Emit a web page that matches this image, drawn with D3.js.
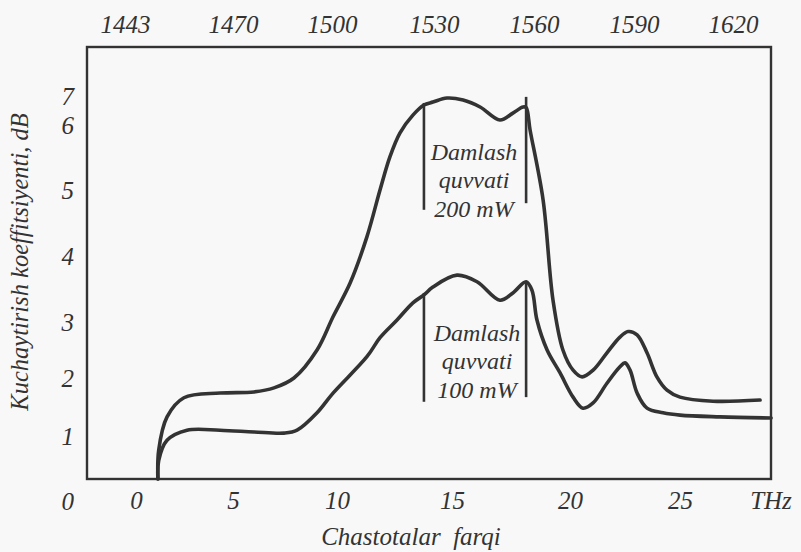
<!DOCTYPE html>
<html><head><meta charset="utf-8">
<script src="https://cdn.jsdelivr.net/npm/d3@7"></script>
<style>
body{margin:0;background:#f8f8f8}
</style>
</head><body>
<svg id="chart" width="801" height="552"></svg>
<script>
// ---- data ----
const xTickValues = [0, 5, 10, 15, 20, 25];
const yTickValues = [0, 1, 2, 3, 4, 5, 6, 7];
const topWavelengths = [1443, 1470, 1500, 1530, 1560, 1590, 1620];

// 200 mW curve (frequency difference THz, gain dB)
const highX = [1.13, 1.17, 1.60, 2.47, 4.33, 6.01, 6.97, 7.93, 9.04, 9.81, 10.57, 11.30, 11.87, 12.30, 12.74, 13.30, 13.78, 14.17, 14.78, 15.47, 16.19, 17.03, 17.58, 18.01, 18.14, 18.31, 18.86, 19.28, 19.70, 20.14, 20.55, 21.05, 21.68, 22.27, 22.64, 23.05, 23.5, 23.95, 24.41, 25.0, 26.5, 28.64];
const highY = [0, 0.67, 1.33, 1.66, 1.74, 1.76, 1.83, 2.0, 2.5, 3.08, 3.59, 4.29, 5.0, 5.51, 5.88, 6.34, 6.69, 6.79, 6.93, 6.86, 6.62, 6.17, 6.41, 6.62, 6.6, 5.92, 4.85, 3.33, 2.5, 2.14, 2.02, 2.14, 2.45, 2.73, 2.83, 2.77, 2.45, 2.02, 1.79, 1.67, 1.60, 1.62];

// 100 mW curve
const lowX = [1.13, 1.17, 1.60, 2.63, 4.33, 6.01, 7.45, 8.08, 9.04, 9.81, 11.30, 11.87, 12.61, 13.30, 13.78, 14.17, 15.21, 16.06, 17.03, 17.58, 18.14, 18.39, 18.6, 19.03, 19.58, 20.14, 20.59, 21.05, 21.68, 22.27, 22.5, 22.73, 23.05, 23.5, 24.23, 25.0, 26.82, 29.14];
const lowY = [0, 0.43, 0.9, 1.1, 1.1, 1.07, 1.05, 1.1, 1.4, 1.74, 2.38, 2.72, 3.03, 3.29, 3.41, 3.53, 3.71, 3.61, 3.33, 3.44, 3.61, 3.48, 3.03, 2.5, 2.09, 1.67, 1.48, 1.57, 1.91, 2.2, 2.27, 2.14, 1.74, 1.48, 1.40, 1.36, 1.33, 1.31];

// marker bars (x position, bottom value, top value)
const highBarX = [13.78, 18.14];
const highBarBottom = [4.70, 4.80];
const highBarTop = [6.76, 6.97];
const lowBarX = [13.78, 18.14];
const lowBarBottom = [1.59, 1.67];
const lowBarTop = [3.44, 3.61];

const highLabel = ["Damlash", "quvvati", "200 mW"];
const lowLabel = ["Damlash", "quvvati", "100 mW"];

// ---- layout ----
const L = 87, R = 771, T = 47, B = 479;
const FONT = "'Liberation Serif', 'Times New Roman', serif";
const svg = d3.select("#chart");
const ink = "#333";

// the printed axes are hand-spaced, so the scales are piecewise linear through the tick marks
const x = d3.scaleLinear().domain(xTickValues).range([136, 233, 337, 452, 570, 680]);
const y = d3.scaleLinear().domain(yTickValues).range([479, 436, 378, 322, 256, 190, 125, 96]);
const xTop = d3.scaleLinear().domain(topWavelengths).range([125, 233, 332, 434, 534, 634, 733]);

// frame
svg.append("rect").attr("x", L).attr("y", T).attr("width", R - L).attr("height", B - T)
  .attr("fill", "none").attr("stroke", ink).attr("stroke-width", 2.4);

// bottom axis
const gx = svg.append("g").attr("transform", `translate(0,${B})`)
  .call(d3.axisBottom(x).tickValues(xTickValues).tickSize(0).tickPadding(12).tickFormat(d3.format("d")));
gx.select(".domain").remove();
gx.selectAll("text").attr("font-size", 25);
svg.append("text").attr("x", R).attr("y", B + 12).attr("dy", "0.71em")
  .attr("text-anchor", "middle").attr("font-size", 25).text("THz");

// left axis
const gy = svg.append("g").attr("transform", `translate(${L},0)`)
  .call(d3.axisLeft(y).tickValues(yTickValues).tickSize(0).tickPadding(13).tickFormat(d3.format("d")));
gy.select(".domain").remove();
gy.selectAll("text").attr("font-size", 25);
gy.selectAll(".tick").filter(d => d === 0).select("text").attr("dy", "1.2em");

// top axis (wavelength, nm)
const gt = svg.append("g").attr("transform", `translate(0,${T})`)
  .call(d3.axisTop(xTop).tickValues(topWavelengths).tickSize(0).tickPadding(14).tickFormat(d3.format("d")));
gt.select(".domain").remove();
gt.selectAll("text").attr("font-size", 25);

// axis titles
svg.append("text").attr("transform", "translate(28,262) rotate(-90)")
  .attr("text-anchor", "middle").attr("font-size", 24.5).text("Kuchaytirish koeffitsiyenti, dB");
svg.append("text").attr("x", 411).attr("y", 545)
  .attr("text-anchor", "middle").attr("font-size", 25).attr("xml:space", "preserve").text("Chastotalar  farqi");

// curves
const line = d3.line().x(d => x(d[0])).y(d => y(d[1])).curve(d3.curveCatmullRom.alpha(0.5));
[[highX, highY], [lowX, lowY]].forEach(([xs, ys]) => {
  svg.append("path").datum(xs.map((v, i) => [v, ys[i]]))
    .attr("d", line).attr("fill", "none").attr("stroke", ink)
    .attr("stroke-width", 3.6).attr("stroke-linejoin", "round").attr("stroke-linecap", "round");
});

// bars + labels
function marker(bx, b0, b1, lines, dyLast, dx) {
  bx.forEach((v, i) => {
    svg.append("line").attr("x1", x(v)).attr("x2", x(v)).attr("y1", y(b0[i])).attr("y2", y(b1[i]))
      .attr("stroke", ink).attr("stroke-width", 2.6);
  });
  const cx = (x(bx[0]) + x(bx[1])) / 2 + dx;
  const lastBase = y(b0[0]) + dyLast;
  lines.forEach((t, i) => {
    svg.append("text").attr("x", cx).attr("y", lastBase - (lines.length - 1 - i) * 28.5)
      .attr("text-anchor", "middle").attr("font-size", 24).text(t);
  });
}
marker(highBarX, highBarBottom, highBarTop, highLabel, 7, -1);
marker(lowBarX, lowBarBottom, lowBarTop, lowLabel, -4, 2);

svg.selectAll("text").attr("font-family", null)
  .style("font-family", FONT).style("font-style", "italic").style("fill", ink);
</script>
</body></html>
